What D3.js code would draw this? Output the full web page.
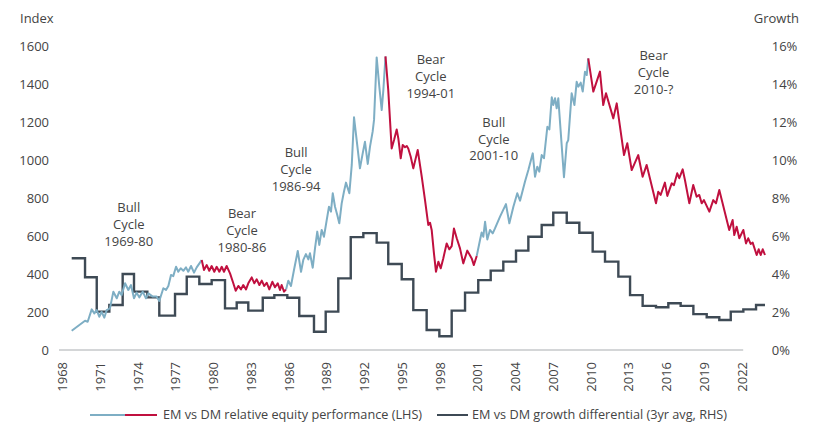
<!DOCTYPE html>
<html>
<head>
<meta charset="utf-8">
<script src="https://cdn.jsdelivr.net/npm/d3@7"></script>
<style>
  html, body { margin: 0; padding: 0; background: #fff; }
  svg { display: block; font-family: "Open Sans", sans-serif; }
</style>
</head>
<body>
<svg id="chart" width="821" height="434"></svg>
<script>
// ---------------- DATA ----------------
const xTickLabels = [1968, 1971, 1974, 1977, 1980, 1983, 1986, 1989, 1992, 1995, 1998, 2001, 2004, 2007, 2010, 2013, 2016, 2019, 2022];
const leftTicks = [0, 200, 400, 600, 800, 1000, 1200, 1400, 1600];
const rightTicks = [0, 2, 4, 6, 8, 10, 12, 14, 16];

// EM vs DM relative equity performance (LHS)
const equityYears = [
  1968.77, 1969.83, 1970.04, 1970.36, 1970.57, 1970.76, 1970.96, 1971.15, 1971.36, 1971.55, 1971.81, 1972.08, 1972.35, 1972.55, 1972.74,
  1973.01, 1973.27, 1973.48, 1973.72, 1973.93, 1974.14, 1974.41, 1974.67, 1974.86, 1975.21, 1975.52, 1975.73, 1976.05, 1976.26, 1976.45,
  1976.66, 1976.84, 1977.06, 1977.24, 1977.43, 1977.64, 1977.85, 1978.03, 1978.25, 1978.49, 1978.70, 1978.96, 1979.10,
  1979.28, 1979.50, 1979.70, 1979.89, 1980.10, 1980.29, 1980.50, 1980.69, 1980.87, 1981.08, 1981.35, 1981.61, 1981.80, 1982.01, 1982.22,
  1982.40, 1982.62, 1982.80, 1983.07, 1983.28, 1983.47, 1983.68, 1983.87, 1984.07, 1984.26, 1984.47, 1984.71, 1984.92, 1985.14, 1985.32,
  1985.45, 1985.64, 1985.80,
  1985.98, 1986.19, 1986.43, 1986.73, 1986.99, 1987.17, 1987.38, 1987.57, 1987.70, 1987.92, 1988.10, 1988.28, 1988.44, 1988.63, 1988.81,
  1989.03, 1989.21, 1989.37, 1989.51, 1989.69, 1989.87, 1990.03, 1990.22, 1990.40, 1990.56, 1990.83, 1991.02, 1991.20, 1991.41, 1991.67,
  1991.89, 1992.07, 1992.29, 1992.47, 1992.68, 1992.79, 1993.00, 1993.21, 1993.40, 1993.53, 1993.70,
  1993.92, 1994.19, 1994.38, 1994.59, 1994.72, 1994.91, 1995.07, 1995.25, 1995.39, 1995.51, 1995.70, 1995.91, 1996.26, 1996.58, 1996.84,
  1997.10, 1997.24, 1997.37, 1997.55, 1997.71, 1997.90, 1998.09, 1998.29, 1998.56, 1998.77, 1998.96, 1999.14, 1999.36, 1999.62, 1999.88,
  2000.20, 2000.55, 2000.72, 2000.95,
  2001.21, 2001.34, 2001.47, 2001.61, 2001.79, 2002.00, 2002.22, 2002.40, 2002.80, 2003.27, 2003.54, 2003.86, 2004.17, 2004.39, 2004.78,
  2005.05, 2005.40, 2005.58, 2005.76, 2005.92, 2006.11, 2006.29, 2006.56, 2006.72, 2006.91, 2007.03, 2007.17, 2007.30, 2007.43, 2007.62,
  2007.88, 2008.10, 2008.22, 2008.49, 2008.71, 2008.89, 2009.02, 2009.21, 2009.37, 2009.55, 2009.69, 2009.81,
  2010.21, 2010.74, 2011.00, 2011.22, 2011.80, 2012.07, 2012.65, 2012.91, 2013.26, 2013.78, 2014.13, 2014.45, 2015.19, 2015.37, 2015.56,
  2015.90, 2016.09, 2016.44, 2016.62, 2016.88, 2017.04, 2017.31, 2017.49, 2017.84, 2018.15, 2018.42, 2018.63, 2018.82, 2019.00, 2019.43,
  2019.74, 2019.96, 2020.22, 2021.01, 2021.28, 2021.41, 2021.60, 2021.81, 2022.13, 2022.34, 2022.52, 2022.71, 2022.87, 2023.06, 2023.19,
  2023.35, 2023.51, 2023.67, 2023.85
];
const equityValues = [
  101, 154, 149, 214, 193, 210, 175, 201, 170, 210, 219, 307, 272, 307, 289,
  351, 316, 342, 272, 302, 277, 307, 272, 298, 281, 281, 258, 325, 316, 337,
  395, 389, 438, 412, 430, 417, 435, 412, 442, 407, 435, 460, 474,
  421, 447, 417, 442, 412, 438, 412, 438, 412, 442, 403, 351, 312, 337, 319,
  342, 319, 351, 382, 351, 372, 342, 365, 337, 354, 319, 359, 330, 351, 316,
  342, 307, 319,
  365, 337, 421, 521, 412, 474, 505, 477, 509, 433, 535, 623, 553, 632, 596,
  684, 754, 728, 825, 754, 711, 667, 772, 833, 881, 825, 974, 1225, 1105, 956,
  1035, 1096, 979, 1070, 1149, 1211, 1540, 1386, 1263, 1368, 1545,
  1368, 1061, 1105, 1161, 1114, 1009, 1079, 1067, 1074, 1061, 1018, 956, 1053, 912, 789,
  658, 670, 632, 509, 412, 465, 430, 482, 561, 530, 547, 640, 588, 535, 456,
  523, 482, 447, 495,
  579, 618, 596, 675, 582, 632, 614, 640, 702, 768, 667, 754, 825, 786, 886,
  947, 1035, 912, 965, 939, 1026, 1009, 1175, 1161, 1330, 1289, 1325, 1272, 1325, 1149,
  909, 1088, 1105, 1351, 1289, 1412, 1386, 1407, 1360, 1465, 1447, 1535,
  1360, 1465, 1289, 1351, 1219, 1298, 1026, 1088, 947, 1026, 912, 974, 772, 833, 816,
  881, 811, 877, 868, 930, 904, 951, 895, 772, 868, 807, 816, 772, 789, 728,
  789, 772, 842, 632, 684, 605, 649, 588, 632, 561, 588, 558, 565, 526, 500,
  530, 500, 530, 500
];

// Market cycles (colour changes of the equity line)
const cycleStart = [1968.77, 1979.10, 1985.80, 1993.70, 2000.95, 2009.81];
const cycleEnd   = [1979.10, 1985.80, 1993.70, 2000.95, 2009.81, 2023.85];
const cycleKind  = ["bull", "bear", "bull", "bear", "bull", "bear"];
const cycleLabel = [
  ["Bull", "Cycle", "1969-80"],
  ["Bear", "Cycle", "1980-86"],
  ["Bull", "Cycle", "1986-94"],
  ["Bear", "Cycle", "1994-01"],
  ["Bull", "Cycle", "2001-10"],
  ["Bear", "Cycle", "2010-?"]
];
// label anchor: year position and index level of the middle line
const cycleLabelYear  = [1973.3, 1982.3, 1986.6, 1997.3, 2002.3, 2015.0];
const cycleLabelLevel = [660, 630, 950, 1440, 1110, 1460];

// EM vs DM growth differential (3yr avg, RHS), % — step periods
const growthStart = [
  1968.77, 1969.83, 1970.76, 1971.76, 1972.82, 1973.72, 1974.78, 1975.73, 1976.98, 1977.91, 1978.91, 1979.89, 1980.95, 1981.88, 1982.80,
  1983.95, 1984.87, 1985.90, 1986.85, 1988.02, 1988.95, 1989.95, 1990.94, 1991.94, 1993.00, 1993.92, 1994.99, 1995.91, 1996.97, 1997.98,
  1998.96, 2000.02, 2001.07, 2002.06, 2003.06, 2004.07, 2005.05, 2006.11, 2007.03, 2008.10, 2009.10, 2010.16, 2011.14, 2012.20, 2013.13,
  2014.13, 2015.19, 2016.17, 2017.15, 2018.16, 2019.22, 2020.22, 2021.13, 2022.13, 2023.14
];
const growthEnd = 2023.85;
const growthValues = [
  4.83, 3.83, 2.02, 2.37, 4.00, 3.07, 2.77, 1.81, 2.95, 3.86, 3.47, 3.68, 2.19, 2.50, 2.07,
  2.75, 2.89, 2.75, 1.79, 0.96, 2.02, 3.77, 5.94, 6.15, 5.65, 4.53, 3.72, 2.10, 1.05, 0.72,
  2.07, 3.02, 3.68, 4.18, 4.65, 5.23, 5.96, 6.58, 7.23, 6.70, 6.17, 5.18, 4.65, 3.86, 2.89,
  2.32, 2.25, 2.46, 2.32, 1.89, 1.72, 1.58, 2.02, 2.14, 2.37
];

const legendLabels = ["EM vs DM relative equity performance (LHS)", "EM vs DM growth differential (3yr avg, RHS)"];

// ---------------- STYLE ----------------
const COL_BULL = "#7eaec4";
const COL_BEAR = "#c0103f";
const COL_GROWTH = "#3e4a55";
const COL_TEXT = "#444444";
const COL_AXIS = "#a9adb0";

// ---------------- CHART ----------------
const svg = d3.select("#chart");
const x = d3.scaleLinear().domain([1968, 2022]).range([62, 741.7]);
const yL = d3.scaleLinear().domain([0, 1600]).range([350, 46]);
const yR = d3.scaleLinear().domain([0, 16]).range([350, 46]);

// baseline
svg.append("line")
  .attr("x1", x(1968) - 3).attr("x2", x(2022) + 1.5)
  .attr("y1", yL(0)).attr("y2", yL(0))
  .attr("stroke", COL_AXIS).attr("stroke-width", 1);

// left axis
const gL = svg.append("g").attr("transform", `translate(${x(1968) - 3},0)`)
  .call(d3.axisLeft(yL).tickValues(leftTicks).tickSize(0).tickPadding(10).tickFormat(d3.format("d")));
gL.select(".domain").remove();
gL.selectAll("text").attr("font-size", 13).attr("font-family", "Open Sans").attr("fill", COL_TEXT);

// right axis
const gR = svg.append("g").attr("transform", `translate(${x(2022) + 20},0)`)
  .call(d3.axisRight(yR).tickValues(rightTicks).tickSize(0).tickPadding(10).tickFormat(d => d + "%"));
gR.select(".domain").remove();
gR.selectAll("text").attr("font-size", 13).attr("font-family", "Open Sans").attr("fill", COL_TEXT);

// bottom axis (rotated labels)
const gB = svg.append("g").attr("transform", `translate(0,${yL(0)})`)
  .call(d3.axisBottom(x).tickValues(xTickLabels).tickSize(0).tickFormat(d3.format("d")));
gB.select(".domain").remove();
gB.selectAll("text")
  .attr("font-size", 13).attr("font-family", "Open Sans").attr("fill", COL_TEXT)
  .attr("transform", "rotate(-90)")
  .attr("text-anchor", "end")
  .attr("x", -12).attr("y", 0).attr("dy", "0.35em");

// axis titles
svg.append("text").attr("x", 20).attr("y", 23).attr("font-size", 13).attr("fill", COL_TEXT).text("Index");
svg.append("text").attr("x", 799).attr("y", 23).attr("text-anchor", "end").attr("font-size", 13).attr("fill", COL_TEXT).text("Growth");

// growth step line
const growthPts = growthStart.map((s, i) => [s, growthValues[i]]);
growthPts.push([growthEnd, growthValues[growthValues.length - 1]]);
svg.append("path")
  .datum(growthPts)
  .attr("fill", "none")
  .attr("stroke", COL_GROWTH)
  .attr("stroke-width", 2.4)
  .attr("stroke-linejoin", "miter")
  .attr("d", d3.line().x(d => x(d[0])).y(d => yR(d[1])).curve(d3.curveStepAfter));

// equity line, coloured by cycle
const equityPts = equityYears.map((yr, i) => [yr, equityValues[i]]);
const eqLine = d3.line().x(d => x(d[0])).y(d => yL(d[1]));
cycleStart.forEach((s, i) => {
  const seg = equityPts.filter(d => d[0] >= s - 1e-6 && d[0] <= cycleEnd[i] + 1e-6);
  svg.append("path")
    .datum(seg)
    .attr("fill", "none")
    .attr("stroke", cycleKind[i] === "bull" ? COL_BULL : COL_BEAR)
    .attr("stroke-width", 2)
    .attr("stroke-linejoin", "round")
    .attr("d", eqLine);
});

// cycle labels
cycleLabel.forEach((lines, i) => {
  const t = svg.append("text")
    .attr("text-anchor", "middle")
    .attr("font-size", 13)
    .attr("fill", COL_TEXT);
  lines.forEach((ln, j) => {
    t.append("tspan")
      .attr("x", x(cycleLabelYear[i]))
      .attr("y", yL(cycleLabelLevel[i]) + (j - 1) * 16.7)
      .attr("dy", "0.35em")
      .text(ln);
  });
});

// legend
const ly = 415;
svg.append("line").attr("x1", 90).attr("x2", 125).attr("y1", ly).attr("y2", ly).attr("stroke", COL_BULL).attr("stroke-width", 2);
svg.append("line").attr("x1", 125).attr("x2", 157).attr("y1", ly).attr("y2", ly).attr("stroke", COL_BEAR).attr("stroke-width", 2);
svg.append("text").attr("x", 163).attr("y", ly).attr("dy", "0.35em").attr("font-size", 12.7).attr("fill", COL_TEXT).text(legendLabels[0]);
svg.append("line").attr("x1", 437).attr("x2", 468).attr("y1", ly).attr("y2", ly).attr("stroke", COL_GROWTH).attr("stroke-width", 2);
svg.append("text").attr("x", 472).attr("y", ly).attr("dy", "0.35em").attr("font-size", 12.7).attr("fill", COL_TEXT).text(legendLabels[1]);
</script>
</body>
</html>
